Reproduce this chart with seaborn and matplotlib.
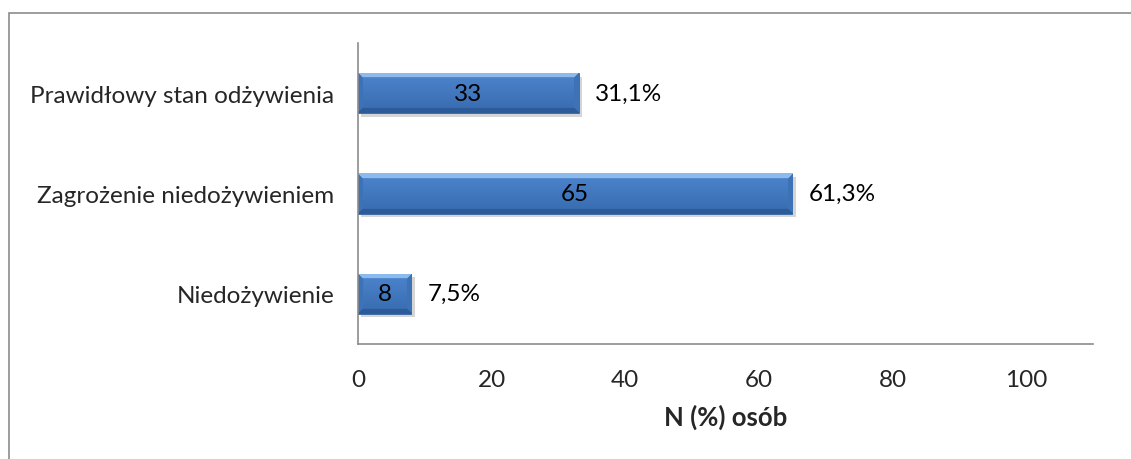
import numpy as np
import pandas as pd
import matplotlib
matplotlib.use("Agg")
import matplotlib.pyplot as plt
import matplotlib.patheffects as pe
from matplotlib.patches import Rectangle
import seaborn as sns

categories = ["Prawidłowy stan odżywienia", "Zagrożenie niedożywieniem", "Niedożywienie"]
counts = [33, 65, 8]
percents = [31.1, 61.3, 7.5]
x_ticks = [0, 20, 40, 60, 80, 100]
x_label = "N (%) osób"

sns.set_theme(style="white")
plt.rcParams["font.family"] = ["Lato", "DejaVu Sans"]

df = pd.DataFrame({"kategoria": categories, "n": counts})

FS = 17.5

fig = plt.figure(figsize=(11.31, 4.60), dpi=100)
fig.patch.set_facecolor("white")
# outer chart frame
fig.add_artist(Rectangle((9 / 1131, -0.05), 1.2, 1 - 14 / 460 + 0.05,
                         transform=fig.transFigure, fill=False,
                         edgecolor="#8c8c8c", linewidth=1.2))

ax = fig.add_axes([358 / 1131, 1 - 345 / 460, (1093 - 358) / 1131, (345 - 44) / 460])
sns.barplot(data=df, x="n", y="kategoria", order=categories, orient="h",
            color="#3a6fb4", width=0.40, ax=ax, saturation=1)

ax.set_xlim(0, 110)
ax.set_ylim(2.5, -0.5)
ax.set_xticks(x_ticks)
ax.set_yticks([-0.5, 0.5, 1.5, 2.5], minor=False)
ax.set_yticklabels([])
ax.set_yticks(range(len(categories)), minor=True)
ax.set_yticklabels(categories, minor=True)
ax.tick_params(axis="y", which="minor", length=0, pad=17, labelsize=FS)
ax.tick_params(axis="y", which="major", length=8, width=1.2, color="#8c8c8c", direction="out")
ax.tick_params(axis="x", length=6, width=1.2, color="#8c8c8c", direction="out",
               labelsize=FS, pad=12)
ax.set_xlabel(x_label, fontsize=18.5, fontweight="bold", labelpad=10)
ax.set_ylabel("")
for s in ["top", "right"]:
    ax.spines[s].set_visible(False)
for s in ["left", "bottom"]:
    ax.spines[s].set_color("#8c8c8c")
    ax.spines[s].set_linewidth(1.2)
ax.grid(False)

# bevelled gradient fill for each bar
fig.canvas.draw()
container = ax.containers[0]
top_c = np.array([0.55, 0.73, 0.93])
body_top = np.array([0.30, 0.52, 0.80])
body_bot = np.array([0.22, 0.42, 0.69])
side_c = np.array([0.24, 0.45, 0.72])
bot_c = np.array([0.18, 0.36, 0.60])
for patch in container.patches:
    patch.set_edgecolor("#3565a5")
    patch.set_linewidth(0.6)
    patch.set_path_effects([pe.SimplePatchShadow(offset=(2.5, -2.5), shadow_rgbFace="#777777", alpha=0.3),
                            pe.Normal()])
    bb = patch.get_window_extent()
    w = max(int(round(bb.width)), 2)
    h = max(int(round(bb.height)), 2)
    img = np.zeros((h, w, 3))
    t = np.linspace(0, 1, h)[:, None]
    img[:] = body_top * (1 - t[..., None]) + body_bot * t[..., None]
    b = 5
    yy, xx = np.mgrid[0:h, 0:w]
    d_top = yy
    d_bot = h - 1 - yy
    d_left = xx
    d_right = w - 1 - xx
    dmin = np.minimum.reduce([d_top, d_bot, d_left, d_right])
    edge = dmin < b
    img[edge & (dmin == d_left)] = side_c
    img[edge & (dmin == d_right)] = side_c
    img[edge & (dmin == d_bot)] = bot_c
    img[edge & (dmin == d_top)] = top_c
    x0, y0 = patch.get_x(), patch.get_y()
    im = ax.imshow(img, extent=[x0, x0 + patch.get_width(), y0 + patch.get_height(), y0],
                   aspect="auto", interpolation="bilinear", zorder=patch.get_zorder() + 0.1)
    im.set_clip_path(patch)

ax.set_xlim(0, 110)
ax.set_ylim(2.5, -0.5)

ax.bar_label(container, labels=[str(c) for c in counts], label_type="center",
             fontsize=FS, color="black", zorder=5)
ax.bar_label(container, labels=[f"{p:.1f}%".replace(".", ",") for p in percents],
             padding=12, fontsize=FS, color="black")

fig.savefig("out.png", dpi=100, facecolor="white")
